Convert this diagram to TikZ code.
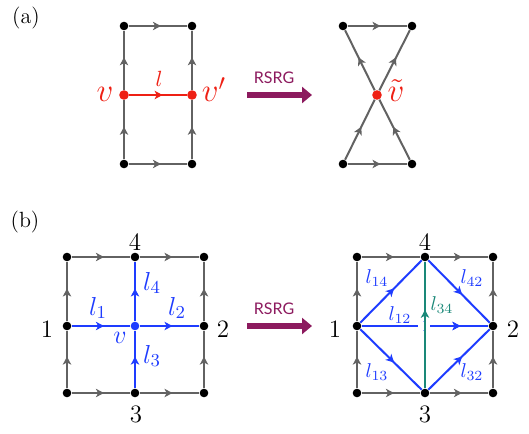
\documentclass[tikz,border=0pt]{standalone}
\usepackage{fix-cm}
\usepackage{fontspec}
\newfontfamily\rsrgfont{Lato}
\usetikzlibrary{arrows.meta,decorations.markings,calc}

\definecolor{edgegray}{RGB}{98,98,98}
\definecolor{rsrgcol}{RGB}{140,26,94}
\definecolor{linkblue}{RGB}{30,60,255}
\definecolor{linkred}{RGB}{238,32,20}
\definecolor{linkteal}{RGB}{26,136,120}

\tikzset{
  dot/.style={circle, fill=black, inner sep=0pt, minimum size=4.3pt},
  reddot/.style={dot, fill=linkred, minimum size=4.8pt},
  bluedot/.style={dot, fill=linkblue},
  midarr/.style={postaction={decorate}, decoration={markings,
      mark=at position #1 with {\arrow{Stealth[length=4pt,width=4.2pt,inset=1.1pt]}}}},
  midarr/.default=0.55,
  lattice/.style={edgegray, line width=1pt, midarr},
  link/.style={linkblue, line width=1pt, midarr},
  rsrg/.style={rsrgcol, line width=3pt, -{Triangle[length=5pt,width=8pt]}},
  rsrglbl/.style={rsrgcol, font=\rsrgfont\fontsize{8}{9}\selectfont},
  numlbl/.style={anchor=base, font=\fontsize{12.5}{14}\selectfont},
  panellbl/.style={font=\fontsize{11}{13}\selectfont},
}

\begin{document}
\begin{tikzpicture}[x=0.5pt, y=-0.5pt]
  \useasboundingbox (0,0) rectangle (529,433);

  % ---- (a) ----
  \node[panellbl] (pa) at (26,18) {(a)};
  \node[dot]    (at1) at (124,26)  {};
  \node[dot]    (at2) at (192,26)  {};
  \node[reddot] (av)  at (124,95)  {};
  \node[reddot] (avp) at (192,95)  {};
  \node[dot]    (ab1) at (124,164) {};
  \node[dot]    (ab2) at (192,164) {};
  \draw[lattice] (at1) -- (at2);
  \draw[lattice] (ab1) -- (ab2);
  \draw[lattice] (ab1) -- (av);
  \draw[lattice] (av) -- (at1);
  \draw[lattice] (ab2) -- (avp);
  \draw[lattice] (avp) -- (at2);
  \draw[linkred, line width=0.8pt, midarr=0.58] (av) -- (avp);
  \node[linkred, anchor=base, font=\fontsize{16.5}{18}\selectfont] (lv) at (105,102) {$v$};
  \node[linkred, anchor=base, font=\fontsize{16.5}{18}\selectfont] (lvp) at (214,102) {$v'$};
  \node[linkred, anchor=base, font=\fontsize{11}{13}\selectfont] (ll) at (159,87) {$l$};

  \coordinate (ra0) at (247,95);
  \coordinate (ra1) at (312,95);
  \draw[rsrg] (ra0) -- (ra1);
  \node[rsrglbl] (ralbl) at (274,78) {RSRG};

  \node[dot]    (bt1) at (343,26)  {};
  \node[dot]    (bt2) at (412,26)  {};
  \node[reddot] (bc)  at (377,95)  {};
  \node[dot]    (bb1) at (343,164) {};
  \node[dot]    (bb2) at (412,164) {};
  \draw[lattice] (bt1) -- (bt2);
  \draw[lattice] (bb1) -- (bb2);
  \draw[lattice] (bb1) -- (bc);
  \draw[lattice] (bc) -- (bt2);
  \draw[lattice] (bb2) -- (bc);
  \draw[lattice] (bc) -- (bt1);
  \node[linkred, anchor=base, font=\fontsize{16.5}{18}\selectfont] (lvt) at (396,102) {$\tilde v$};

  % ---- (b) ----
  \node[panellbl] (pb) at (25,222) {(b)};
  \node[dot] (c11) at (67,257)  {};
  \node[dot] (c12) at (135,257) {};
  \node[dot] (c13) at (204,257) {};
  \node[dot] (c21) at (67,326)  {};
  \node[bluedot] (cv) at (135,326) {};
  \node[dot] (c23) at (204,326) {};
  \node[dot] (c31) at (67,393)  {};
  \node[dot] (c32) at (135,393) {};
  \node[dot] (c33) at (204,393) {};
  \draw[lattice] (c11) -- (c12);
  \draw[lattice] (c12) -- (c13);
  \draw[lattice] (c31) -- (c32);
  \draw[lattice] (c32) -- (c33);
  \draw[lattice] (c31) -- (c21);
  \draw[lattice] (c21) -- (c11);
  \draw[lattice] (c33) -- (c23);
  \draw[lattice] (c23) -- (c13);
  \draw[link] (c21) -- (cv);
  \draw[link] (cv) -- (c23);
  \draw[link] (c32) -- (cv);
  \draw[link] (cv) -- (c12);

  \node[numlbl] (c1l) at (47,337)  {1};
  \node[numlbl] (c2l) at (223,337) {2};
  \node[numlbl] (c3l) at (136,422) {3};
  \node[numlbl] (c4l) at (135,250) {4};
  \begin{scope}[linkblue, font=\fontsize{13}{15}\selectfont]
    \node[anchor=base] (cl1) at (98,315)  {$l_1$};
    \node[anchor=base] (cl2) at (177,315) {$l_2$};
    \node[anchor=base] (cl3) at (152,363) {$l_3$};
    \node[anchor=base] (cl4) at (152,290) {$l_4$};
    \node[anchor=base] (cvl) at (120,343) {$v$};
  \end{scope}

  \coordinate (rb0) at (247,326);
  \coordinate (rb1) at (312,326);
  \draw[rsrg] (rb0) -- (rb1);
  \node[rsrglbl] (rblbl) at (274,309) {RSRG};

  \node[dot] (d11) at (357,257) {};
  \node[dot] (d12) at (425,257) {};
  \node[dot] (d13) at (493,257) {};
  \node[dot] (d21) at (357,326) {};
  \node[dot] (d23) at (493,326) {};
  \node[dot] (d31) at (357,393) {};
  \node[dot] (d32) at (425,393) {};
  \node[dot] (d33) at (493,393) {};
  \draw[lattice] (d11) -- (d12);
  \draw[lattice] (d12) -- (d13);
  \draw[lattice] (d31) -- (d32);
  \draw[lattice] (d32) -- (d33);
  \draw[lattice] (d31) -- (d21);
  \draw[lattice] (d21) -- (d11);
  \draw[lattice] (d33) -- (d23);
  \draw[lattice] (d23) -- (d13);
  \draw[link] (d21) -- (d12);
  \draw[link] (d12) -- (d23);
  \draw[link] (d21) -- (d32);
  \draw[link] (d32) -- (d23);
  \draw[link, midarr=0.78] (d21) -- (d23);
  \draw[white, line width=4pt] ($(d21)!0.449!(d23)$) -- ($(d21)!0.537!(d23)$);
  \draw[linkteal, line width=1pt, midarr=0.62] (d32) -- (d12);

  \node[numlbl] (d1l) at (335,337) {1};
  \node[numlbl] (d2l) at (513,337) {2};
  \node[numlbl] (d3l) at (425,422) {3};
  \node[numlbl] (d4l) at (425,250) {4};
  \begin{scope}[linkblue, font=\fontsize{10}{12}\selectfont]
    \node[anchor=base] (dl14) at (377,283) {$l_{14}$};
    \node[anchor=base] (dl42) at (472,283) {$l_{42}$};
    \node[anchor=base] (dl12) at (400,320) {$l_{12}$};
    \node[anchor=base] (dl13) at (377,377) {$l_{13}$};
    \node[anchor=base] (dl32) at (472,377) {$l_{32}$};
    \node[anchor=base, linkteal] (dl34) at (442,310) {$l_{34}$};
  \end{scope}
\end{tikzpicture}
\end{document}
